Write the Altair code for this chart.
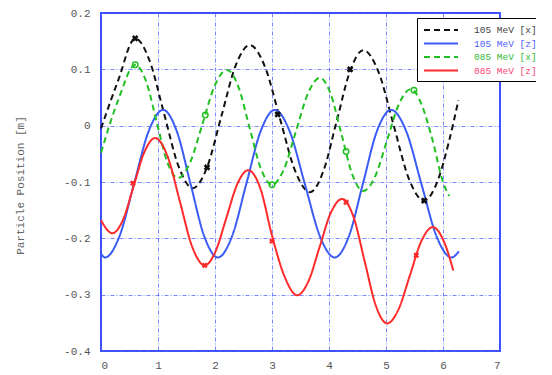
import altair as alt
import pandas as pd

series_names = ["105 MeV [x]", "105 MeV [z]", "085 MeV [x]", "085 MeV [z]"]
series_colors = ["#111111", "#3a5cf5", "#22c022", "#ff2a2a"]
series_dash = [[6, 4], [1, 0], [6, 4], [1, 0]]

# 105 MeV [x]
bx_x = [0.0, 0.3, 0.6, 0.85, 1.105, 1.36, 1.61, 1.86, 2.11, 2.36, 2.61, 2.875, 3.14, 3.405, 3.67,
        3.9, 4.135, 4.37, 4.6, 4.87, 5.135, 5.40, 5.67, 5.92, 6.1, 6.27]
bx_y = [-0.005, 0.08, 0.155, 0.116, 0.022, -0.072, -0.111, -0.074, 0.016, 0.106, 0.143, 0.105, 0.0125, -0.080, -0.118,
        -0.081, 0.008, 0.097, 0.134, 0.095, 0.0005, -0.094, -0.133, -0.094, -0.03, 0.045]
# 105 MeV [z]
bz_x = [0.0, 0.07, 0.325, 0.58, 0.835, 1.09, 1.33, 1.57, 1.81, 2.05, 2.3, 2.55, 2.8, 3.05, 3.31, 3.575, 3.84,
        4.1, 4.35, 4.595, 4.84, 5.09, 5.355, 5.62, 5.885, 6.15, 6.28]
bz_y = [-0.227, -0.234, -0.196, -0.103, -0.010, 0.028, -0.010, -0.103, -0.196, -0.234, -0.196, -0.103, -0.010,
        0.028, -0.010, -0.103, -0.196, -0.234, -0.196, -0.103, -0.010, 0.028, -0.010, -0.103, -0.196, -0.234, -0.223]
# 085 MeV [x]
gx_x = [0.0, 0.3, 0.6, 0.79, 0.975, 1.16, 1.35, 1.565, 1.78, 1.995, 2.21, 2.41, 2.605, 2.80, 3.0, 3.21, 3.42,
        3.63, 3.84, 4.03, 4.22, 4.41, 4.6, 4.81, 5.02, 5.23, 5.44, 5.63, 5.815, 6.0, 6.11]
gx_y = [-0.048, 0.045, 0.108, 0.079, 0.0075, -0.064, -0.093, -0.065, 0.003, 0.071, 0.099, 0.069, -0.003, -0.075,
        -0.105, -0.077, -0.01, 0.057, 0.085, 0.056, -0.0155, -0.087, -0.116, -0.090, -0.0255, 0.039, 0.065, 0.036,
        -0.025, -0.100, -0.125]
# 085 MeV [z]
gz_x = [0.0, 0.2, 0.39, 0.575, 0.76, 0.95, 1.17, 1.385, 1.6, 1.82, 2.01, 2.2, 2.39, 2.58, 2.795, 3.0, 3.225,
        3.44, 3.64, 3.835, 4.03, 4.23, 4.43, 4.625, 4.82, 5.02, 5.22, 5.42, 5.62, 5.82, 6.03, 6.18]
gz_y = [-0.168, -0.191, -0.166, -0.1065, -0.047, -0.022, -0.055, -0.135, -0.215, -0.248, -0.223, -0.1635, -0.104,
        -0.079, -0.111, -0.195, -0.269, -0.301, -0.276, -0.2155, -0.155, -0.13, -0.162, -0.2405, -0.319, -0.351,
        -0.326, -0.2655, -0.205, -0.18, -0.209, -0.257]

# markers
bx_mx = [0.6, 1.86, 3.1, 4.37, 5.67]
bx_my = [0.155, -0.074, 0.02, 0.1, -0.133]
gx_mx = [0.6, 1.83, 3.0, 4.3, 5.49]
gx_my = [0.108, 0.019, -0.105, -0.046, 0.063]
gz_mx = [0.56, 1.82, 3.0, 4.3, 5.53]
gz_my = [-0.102, -0.248, -0.205, -0.136, -0.23]

x_ticks = [0, 1, 2, 3, 4, 5, 6, 7]
y_ticks = [-0.4, -0.3, -0.2, -0.1, 0.0, 0.1, 0.2]

rows = []
for name, xs, ys in zip(series_names, [bx_x, bz_x, gx_x, gz_x], [bx_y, bz_y, gx_y, gz_y]):
    for i, (a, b) in enumerate(zip(xs, ys)):
        rows.append({"series": name, "t": a, "pos": b, "i": i})
lines_df = pd.DataFrame(rows)

blk_df = pd.DataFrame({"t": bx_mx, "pos": bx_my})
grn_df = pd.DataFrame({"t": gx_mx, "pos": gx_my})
red_df = pd.DataFrame({"t": gz_mx, "pos": gz_my})

xscale = alt.Scale(domain=[0, 7], nice=False)
yscale = alt.Scale(domain=[-0.4, 0.2], nice=False)

label_expr = ("datum.value == '105 MeV [x]' ? '#444444' : datum.value == '105 MeV [z]' ? '#5060ff' : "
              "datum.value == '085 MeV [x]' ? '#33bb33' : '#ff4477'")

legend = alt.Legend(
    title=None, orient="none", legendX=316, legendY=5,
    symbolType="M-3.4,0L3.4,0", symbolSize=100, symbolStrokeWidth=2, symbolOffset=12,
    labelFont="Liberation Mono", labelFontSize=9.5,
    labelColor=alt.ExprRef(label_expr),
    rowPadding=2.5, padding=6, strokeColor="#000000", fillColor="#ffffff",
    cornerRadius=0, labelOffset=27,
)

xaxis = alt.Axis(values=x_ticks, title=None, grid=True, ticks=False, domain=False, format="d",
                 labelFont="Liberation Mono", labelFontSize=11, labelColor="#555555", labelPadding=8)
yaxis = alt.Axis(values=y_ticks, title="Particle Position [m]", grid=True, ticks=False, domain=False,
                 labelExpr="datum.value == 0 ? '0' : replace(format(datum.value, '.1f'), '\u2212', '-')",
                 labelFont="Liberation Mono", labelFontSize=11, labelColor="#555555", labelPadding=11,
                 titleFont="Liberation Mono", titleFontSize=11, titleColor="#666666", titleFontWeight="normal",
                 titleX=-76, titleY=172)

lines = alt.Chart(lines_df).mark_line(strokeWidth=2, interpolate="monotone").encode(
    x=alt.X("t:Q", scale=xscale, axis=xaxis),
    y=alt.Y("pos:Q", scale=yscale, axis=yaxis),
    color=alt.Color("series:N", scale=alt.Scale(domain=series_names, range=series_colors), legend=legend),
    strokeDash=alt.StrokeDash("series:N", scale=alt.Scale(domain=series_names, range=series_dash), legend=legend),
    order="i:Q",
)

blk = alt.Chart(blk_df).mark_point(shape="cross", angle=45, filled=True, size=45, color="#111111", opacity=1).encode(
    x=alt.X("t:Q", scale=xscale), y=alt.Y("pos:Q", scale=yscale))
grn = alt.Chart(grn_df).mark_point(shape="circle", filled=False, size=30, strokeWidth=1.5, color="#22c022", opacity=1).encode(
    x=alt.X("t:Q", scale=xscale), y=alt.Y("pos:Q", scale=yscale))
red = alt.Chart(red_df).mark_point(shape="cross", angle=45, filled=True, size=35, color="#ff2a2a", opacity=1).encode(
    x=alt.X("t:Q", scale=xscale), y=alt.Y("pos:Q", scale=yscale))

chart = alt.layer(lines, blk, grn, red).properties(
    width=399, height=338,
    autosize=alt.AutoSizeParams(type="none"),
    padding={"left": 93, "top": 5, "right": 36, "bottom": 24},
).configure_view(
    stroke="#3a4cff", strokeWidth=2
).configure_axis(
    gridColor="#5060ff", gridDash=[4, 2, 1, 2], gridWidth=1, gridOpacity=0.75
)

chart.save("out.html", embed_options={"renderer": "svg", "actions": False})
